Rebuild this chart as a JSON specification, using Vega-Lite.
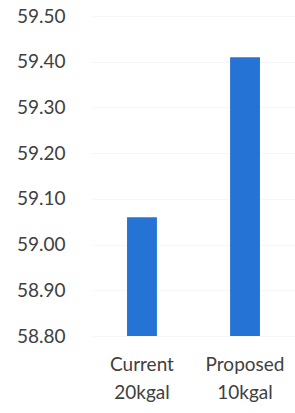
{
  "$schema": "https://vega.github.io/schema/vega-lite/v6.json",
  "autosize": "none",
  "width": 203,
  "height": 320,
  "padding": {"left": 92, "top": 16, "right": 0, "bottom": 77},
  "background": "white",
  "data": {"values": [
    {"scenario": "Current 20kgal", "value": 59.06},
    {"scenario": "Proposed 10kgal", "value": 59.41}
  ]},
  "mark": {"type": "bar", "color": "#2573d5", "clip": true},
  "encoding": {
    "x": {
      "field": "scenario", "type": "nominal", "sort": null,
      "scale": {"paddingInner": 0.71, "paddingOuter": 0.34},
      "axis": {
        "title": null, "labelAngle": 0, "ticks": false, "domain": false,
        "labelExpr": "split(datum.label, ' ')",
        "labelFont": "Lato", "labelFontSize": 19, "labelColor": "#404040",
        "labelLineHeight": 28, "labelPadding": 19
      }
    },
    "y": {
      "field": "value", "type": "quantitative",
      "scale": {"domain": [58.8, 59.5], "zero": false, "nice": false},
      "axis": {
        "title": null, "values": [58.8, 58.9, 59.0, 59.1, 59.2, 59.3, 59.4, 59.5],
        "format": ".2f", "ticks": false, "domain": false,
        "labelFont": "Lato", "labelFontSize": 19, "labelColor": "#404040",
        "labelPadding": 27, "gridColor": "#f7f7f7", "labelFlush": false
      }
    }
  },
  "config": {"view": {"stroke": null}}
}
